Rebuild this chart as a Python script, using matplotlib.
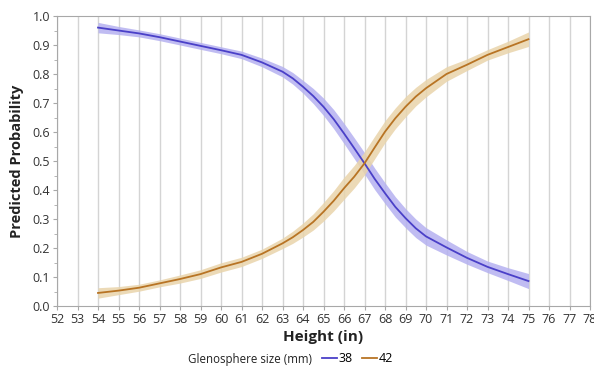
import numpy as np
import matplotlib.pyplot as plt
from matplotlib.ticker import MultipleLocator

plt.rcParams['font.family'] = ['Open Sans', 'DejaVu Sans']

# ---- data ----
height = [54, 55, 56, 57, 58, 59, 60, 61, 62, 63, 63.5, 64, 64.5, 65, 65.5, 66, 66.5, 67, 67.5, 68, 68.5, 69, 69.5,
          70, 71, 72, 73, 74, 75]
p38 = [0.960, 0.950, 0.940, 0.927, 0.912, 0.897, 0.882, 0.866, 0.840, 0.808, 0.785, 0.756, 0.724, 0.687, 0.644, 0.595,
       0.544, 0.492, 0.438, 0.389, 0.342, 0.303, 0.268, 0.240, 0.202, 0.166, 0.135, 0.110, 0.086]
hw38 = [0.018, 0.014, 0.012, 0.012, 0.012, 0.012, 0.012, 0.013, 0.015, 0.018, 0.020, 0.022, 0.026, 0.030, 0.033, 0.035,
        0.036, 0.037, 0.037, 0.036, 0.035, 0.033, 0.032, 0.030, 0.026, 0.022, 0.020, 0.022, 0.026]
p42 = [0.045, 0.053, 0.063, 0.078, 0.093, 0.110, 0.133, 0.152, 0.180, 0.216, 0.237, 0.262, 0.290, 0.325, 0.363, 0.406,
       0.446, 0.492, 0.547, 0.601, 0.647, 0.687, 0.722, 0.751, 0.800, 0.832, 0.866, 0.893, 0.920]
hw42 = [0.018, 0.014, 0.012, 0.012, 0.014, 0.015, 0.016, 0.016, 0.016, 0.018, 0.021, 0.024, 0.028, 0.032, 0.035, 0.038,
        0.039, 0.040, 0.039, 0.038, 0.036, 0.035, 0.032, 0.030, 0.025, 0.020, 0.018, 0.020, 0.025]
xticks = list(range(52, 79))
yticks = [0.0, 0.1, 0.2, 0.3, 0.4, 0.5, 0.6, 0.7, 0.8, 0.9, 1.0]

blue = '#4a40c8'
orange = '#b87424'

fig = plt.figure(figsize=(5.94, 3.71), dpi=100)
ax = fig.add_axes([57 / 594, 65 / 371, 533 / 594, 290 / 371])

x = np.array(height)
for p, hw, fc in [(p38, hw38, '#b5b1f0'), (p42, hw42, '#e9d4ab')]:
    p = np.array(p)
    hw = np.array(hw)
    ax.fill_between(x, p - hw, p + hw, color=fc, alpha=0.85, lw=0, zorder=2)
for p, c, lab in [(p38, blue, '38'), (p42, orange, '42')]:
    ax.plot(x, p, color=c, lw=1.3, zorder=3, label=lab, solid_joinstyle='round')

ax.set_xlim(52, 78)
ax.set_ylim(0, 1.0)
ax.set_xticks(xticks)
ax.set_yticks(yticks)
ax.set_yticklabels([f'{v:.1f}' for v in yticks])
ax.yaxis.set_minor_locator(MultipleLocator(0.05))
ax.grid(axis='x', color='#d4d4d4', lw=1.0, zorder=0)
ax.set_axisbelow(True)
for s in ax.spines.values():
    s.set_color('#a8a8a8')
ax.tick_params(axis='both', labelsize=9, colors='#a8a8a8', labelcolor='#333333', length=3, pad=2)
ax.tick_params(axis='y', which='minor', length=2, colors='#a8a8a8')

ax.set_xlabel('Height (in)', fontsize=11, fontweight='bold', color='#222222', labelpad=3)
ax.set_ylabel('Predicted Probability', fontsize=10.5, fontweight='bold', color='#222222', labelpad=6)

fig.text(188 / 594, 1 - 360 / 371, 'Glenosphere size (mm)', fontsize=8.3, color='#222222', va='center')
ax.legend(loc='center left', bbox_to_anchor=(322 / 594, 1 - 359 / 371), bbox_transform=fig.transFigure,
          ncol=2, frameon=False, fontsize=9, handlelength=1.2, handletextpad=0.15, columnspacing=0.7,
          borderaxespad=0, borderpad=0)

fig.savefig('out.png', dpi=100)
plt.close()
